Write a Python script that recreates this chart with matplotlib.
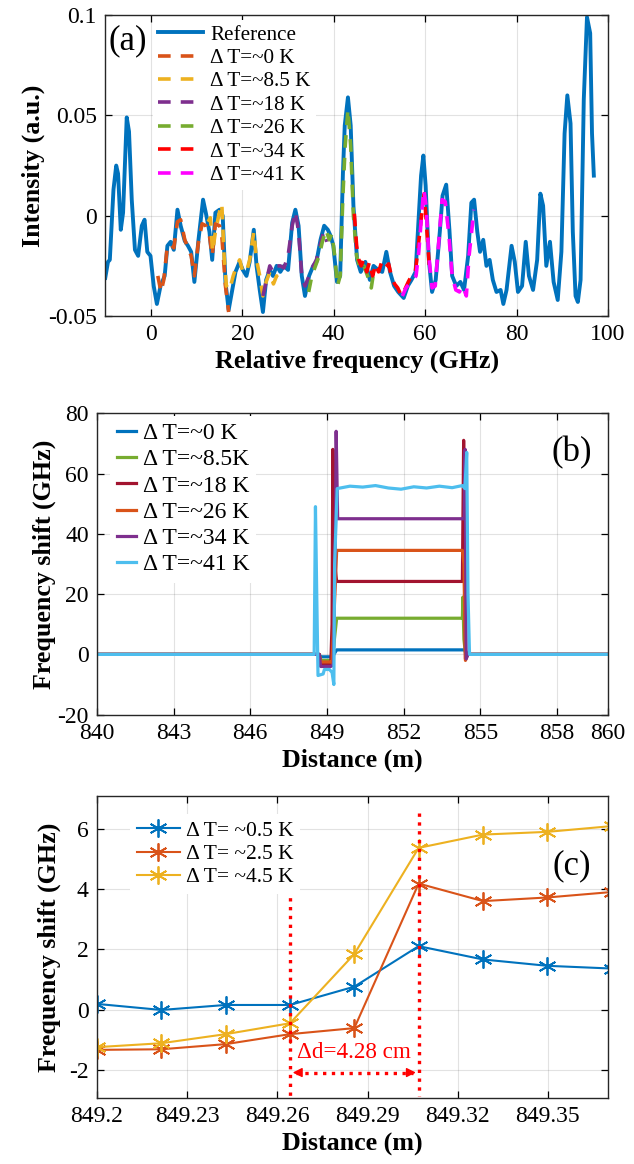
import numpy as np
import matplotlib
matplotlib.use('Agg')
from matplotlib import pyplot as plt

plt.rcParams['font.family'] = ['Liberation Serif', 'DejaVu Serif']
plt.rcParams['axes.unicode_minus'] = False

# ---------------- panel (a): spectra ----------------
ref_freq = [-10, -9.4, -9.0, -8.2, -7.6, -7.2, -6.6, -6.1, -5.3, -4.8, -4.2, -3.5, -2.8, -2.0,
            -1.4, -0.8, -0.1, 0.6, 1.3, 2.1, 3.0, 3.6, 4.3, 5.0, 5.8, 6.5, 7.4, 8.1, 8.8, 9.5,
            10.4, 11.4, 12.0, 12.8, 13.4, 14.1, 15.0, 15.7, 16.3, 17.0, 17.8, 18.5, 19.4, 20.1,
            20.9, 21.6, 22.5, 23.1, 23.8, 24.5, 25.2, 26.0, 26.7, 27.5, 28.3, 29.1, 30.0, 30.9,
            31.6, 32.3, 33.0, 33.7, 34.6, 35.5, 36.2, 37.1, 37.9, 38.7, 39.3, 39.9, 40.7, 41.4,
            42.0, 42.4, 43.1, 43.7, 44.3, 45.1, 45.9, 46.9, 47.9, 48.7, 49.7, 50.6, 51.5, 52.3,
            53.2, 54.1, 55.3, 56.2, 57.0, 57.9, 58.6, 59.1, 59.6, 60.1, 60.8, 61.5, 62.3, 63.2,
            63.8, 64.6, 65.3, 65.9, 66.8, 67.7, 68.5, 69.4, 70.1, 70.7, 71.4, 72.0, 72.7, 73.4,
            74.1, 74.8, 75.6, 76.5, 77.1, 77.8, 78.9, 79.6, 80.3, 81.2, 82.0, 82.7, 83.6, 84.5,
            85.2, 85.8, 86.5, 87.3, 88.1, 89.0, 89.8, 90.5, 91.1, 91.8, 92.3, 92.9, 93.4, 94.0,
            94.7, 95.4, 96.1, 96.5, 96.9]
ref_int = [-0.031, -0.023, -0.022, 0.013, 0.025, 0.021, -0.007, 0.0015, 0.049, 0.042, 0.008,
           -0.017, -0.020, -0.005, -0.002, -0.018, -0.020, -0.035, -0.044, -0.035, -0.030,
           -0.015, -0.013, -0.017, 0.003, -0.005, -0.0126, -0.015, -0.018, -0.033, -0.012,
           0.008, 0.0015, -0.008, -0.022, 0.0015, 0.003, 0.0, -0.033, -0.047, -0.037, -0.028,
           -0.023, -0.027, -0.030, -0.023, -0.007, -0.025, -0.037, -0.048, -0.032, -0.027,
           -0.030, -0.025, -0.028, -0.025, -0.027, -0.0035, 0.003, -0.005, -0.030, -0.040,
           -0.030, -0.025, -0.023, -0.012, -0.005, -0.007, -0.010, -0.015, -0.033, -0.030,
           0.021, 0.045, 0.059, 0.045, 0.005, -0.022, -0.028, -0.023, -0.032, -0.025, -0.027,
           -0.028, -0.018, -0.028, -0.035, -0.038, -0.041, -0.035, -0.032, -0.028, 0.0, 0.020,
           0.030, 0.015, -0.022, -0.038, -0.032, -0.008, 0.010, 0.0155, -0.007, -0.030, -0.035,
           -0.033, -0.037, -0.020, 0.0065, 0.008, -0.008, -0.018, -0.012, -0.025, -0.022,
           -0.032, -0.038, -0.037, -0.044, -0.037, -0.015, -0.023, -0.038, -0.035, -0.013,
           -0.030, -0.037, -0.022, 0.011, 0.005, -0.025, -0.013, -0.033, -0.042, -0.018, 0.041,
           0.060, 0.046, -0.008, -0.040, -0.043, -0.032, 0.058, 0.099, 0.091, 0.041, 0.020]

dt0_freq = [1.5, 2.2, 2.8, 3.5, 4.2, 5.0, 5.8, 6.5, 7.4, 8.1, 8.8, 9.5, 10.4, 11.2, 12.0, 12.8,
            13.4, 14.1, 15.0, 15.5, 16.3, 17.0]
dt0_int = [-0.030, -0.038, -0.032, -0.017, -0.014, -0.016, -0.003, -0.002, -0.012, -0.016,
           -0.020, -0.030, -0.013, -0.004, -0.005, -0.010, -0.020, -0.004, -0.005, -0.010,
           -0.035, -0.048]
dt8_freq = [12.5, 13.0, 13.5, 14.1, 15.0, 15.5, 16.0, 16.5, 17.2, 18.0, 18.6, 19.4, 20.1, 20.9,
            21.6, 22.5, 23.1, 23.8, 24.5, 25.2, 26.0, 26.8, 27.5, 28.0]
dt8_int = [-0.003, -0.001, -0.018, -0.008, 0.002, 0.006, -0.020, -0.035, -0.037, -0.030,
           -0.026, -0.022, -0.028, -0.028, -0.022, -0.008, -0.022, -0.030, -0.040, -0.033,
           -0.028, -0.034, -0.030, -0.034]
dt18_freq = [24.5, 25.2, 26.0, 26.7, 27.5, 28.3, 29.1, 30.0, 30.9, 31.6, 32.3, 33.0, 33.7, 34.6,
             35.5, 36.2, 37.1, 37.8, 38.5]
dt18_int = [-0.040, -0.033, -0.025, -0.028, -0.025, -0.025, -0.026, -0.020, -0.005, 0.002,
            -0.008, -0.030, -0.035, -0.030, -0.025, -0.022, -0.014, -0.008, -0.013]
dt26_freq = [34.5, 35.2, 36.0, 36.8, 37.5, 38.3, 39.0, 39.6, 40.2, 40.8, 41.4, 42.0, 42.5, 43.1,
             43.7, 44.3, 45.0, 45.8, 46.6, 47.4, 48.2, 48.6]
dt26_int = [-0.038, -0.030, -0.025, -0.020, -0.013, -0.007, -0.012, -0.009, -0.020, -0.035,
            -0.030, 0.010, 0.035, 0.053, 0.035, 0.000, -0.020, -0.027, -0.025, -0.030, -0.036,
            -0.030]
dt34_freq = [44.5, 45.0, 45.5, 46.0, 46.5, 47.2, 47.8, 48.5, 49.2, 49.8, 50.5, 51.2, 52.0, 52.6,
             53.3, 54.0, 54.8, 55.5, 56.3, 57.0, 57.8, 58.5, 59.2, 59.8, 60.3, 60.9]
dt34_int = [0.001, -0.015, -0.022, -0.025, -0.022, -0.028, -0.023, -0.030, -0.024, -0.028,
            -0.023, -0.026, -0.024, -0.030, -0.034, -0.036, -0.040, -0.037, -0.033, -0.030,
            -0.029, -0.015, 0.000, 0.011, -0.005, -0.025]
dt41_freq = [55.0, 55.8, 56.5, 57.3, 58.0, 58.6, 59.2, 59.7, 60.2, 60.8, 61.5, 62.2, 63.0, 63.7,
             64.4, 65.2, 65.9, 66.7, 67.5, 68.2, 69.0, 69.6, 70.3, 70.6]
dt41_int = [-0.040, -0.036, -0.034, -0.032, -0.030, -0.018, 0.000, 0.013, 0.005, -0.020, -0.036,
            -0.035, -0.012, 0.008, 0.007, -0.010, -0.030, -0.037, -0.038, -0.035, -0.040, -0.020,
            -0.005, 0.003]

labels_a = ['Reference', 'Δ T=~0 K', 'Δ T=~8.5 K', 'Δ T=~18 K', 'Δ T=~26 K', 'Δ T=~34 K',
            'Δ T=~41 K']
colors_a = ['#0072BD', '#D95319', '#EDB120', '#7E2F8E', '#77AC30', '#FF0000', '#FF00FF']

# ---------------- panel (b): distributed shift ----------------
b_x0 = [840, 848.7, 848.75, 849.15, 849.2, 849.38, 854.35, 854.42, 854.5, 860]
b_y0 = [0, 0, -0.8, -0.8, -1.0, 1.5, 1.5, 1.3, 0, 0]
b_x8 = [840, 848.7, 848.75, 849.15, 849.2, 849.38, 854.3, 854.32, 854.36, 854.42, 854.5, 860]
b_y8 = [0, 0, -2.0, -2.0, -2.2, 12, 12, 19, 5, 0.5, 0, 0]
b_x18 = [840, 848.7, 848.75, 849.15, 849.2, 849.23, 849.3, 849.38, 854.3, 854.35, 854.42, 854.5, 860]
b_y18 = [0, 0, -3.0, -3.0, 10, 68, 30, 24.2, 24.2, 71, -1.5, 0, 0]
b_x26 = [840, 848.7, 848.75, 849.15, 849.2, 849.38, 854.3, 854.36, 854.42, 854.5, 860]
b_y26 = [0, 0, -2.5, -2.5, -2.7, 34.5, 34.5, 30, -2.0, 0, 0]
b_x34 = [840, 848.7, 848.75, 849.15, 849.25, 849.33, 849.36, 849.42, 854.3, 854.37, 854.41,
         854.45, 854.52, 860]
b_y34 = [0, 0, -4.0, -4.0, -3.5, 40, 74, 45, 45, 45, 68, -1.5, 0, 0]
b_x41 = [840, 848.5, 848.55, 848.6, 848.65, 848.85, 848.9, 849.1, 849.2, 849.27, 849.3, 849.4,
         849.9, 850.4, 850.9, 851.4, 851.9, 852.4, 852.9, 853.4, 853.9, 854.3, 854.4, 854.47,
         854.52, 854.58, 860]
b_y41 = [0, 0, 49, 20, -7, -6.5, -5, -5, -6, -10, 30, 55, 55.8, 55.5, 56, 55.2, 54.8, 55.6,
         55.2, 55.8, 55.3, 56, 55, 67, 20, 0, 0]

labels_b = ['Δ T=~0 K', 'Δ T=~8.5K', 'Δ T=~18 K', 'Δ T=~26 K', 'Δ T=~34 K', 'Δ T=~41 K']
colors_b = ['#0072BD', '#77AC30', '#A2142F', '#D95319', '#7E2F8E', '#4DBEEE']

# ---------------- panel (c): zoom on the edge ----------------
c_dist = [849.2, 849.2214, 849.2428, 849.2642, 849.2856, 849.307, 849.3284, 849.3498, 849.3712]
c_dt05 = [0.2, 0.0, 0.165, 0.165, 0.77, 2.11, 1.67, 1.46, 1.37]
c_dt25 = [-1.32, -1.30, -1.13, -0.80, -0.60, 4.18, 3.60, 3.72, 3.90]
c_dt45 = [-1.23, -1.10, -0.80, -0.44, 1.85, 5.36, 5.80, 5.89, 6.08]
labels_c = ['Δ T= ~0.5 K', 'Δ T= ~2.5 K', 'Δ T= ~4.5 K']
colors_c = ['#0072BD', '#D95319', '#EDB120']
edge_left, edge_right = 849.2642, 849.307

LABEL_FS = 18.7
TICK_FS = 17


def style_axes(ax):
    ax.grid(True, color='#262626', alpha=0.13, lw=0.8)
    ax.set_axisbelow(True)
    ax.tick_params(direction='in', top=True, right=True, length=5, width=0.9,
                   labelsize=TICK_FS, pad=6)
    for s in ax.spines.values():
        s.set_linewidth(1.0)
        s.set_color('#262626')


fig = plt.figure(figsize=(6.34, 11.64), dpi=100)

# (a)
ax1 = fig.add_axes([0.166, 0.7285, 0.793, 0.2585])
ax1.plot(ref_freq, ref_int, color=colors_a[0], lw=2.8, label=labels_a[0])
traces = [(dt0_freq, dt0_int), (dt8_freq, dt8_int), (dt18_freq, dt18_int),
          (dt26_freq, dt26_int), (dt34_freq, dt34_int), (dt41_freq, dt41_int)]
for (f, v), c, lab in zip(traces, colors_a[1:], labels_a[1:]):
    ax1.plot(f, v, '--', color=c, lw=2.6, dashes=(3.5, 2.8), label=lab)
ax1.set_xlim(-10, 100)
ax1.set_ylim(-0.05, 0.1)
ax1.set_xticks([0, 20, 40, 60, 80, 100])
ax1.set_yticks([-0.05, 0, 0.05, 0.1])
ax1.set_yticklabels(['-0.05', '0', '0.05', '0.1'])
style_axes(ax1)
ax1.set_xlabel('Relative frequency (GHz)', fontsize=LABEL_FS, fontweight='bold', labelpad=3)
ax1.set_ylabel('Intensity (a.u.)', fontsize=LABEL_FS, fontweight='bold', labelpad=2)
ax1.legend(loc='upper left', bbox_to_anchor=(0.095, 0.985), fontsize=15.2, frameon=True,
           edgecolor='none', facecolor='white', framealpha=1, handlelength=2.1,
           handletextpad=0.35, labelspacing=0.17, borderpad=0.25, borderaxespad=0)
ax1.text(0.045, 0.915, '(a)', transform=ax1.transAxes, fontsize=25, ha='center', va='center')

# (b)
ax2 = fig.add_axes([0.153, 0.386, 0.806, 0.259])
curves_b = [(b_x0, b_y0), (b_x8, b_y8), (b_x18, b_y18), (b_x26, b_y26), (b_x34, b_y34),
            (b_x41, b_y41)]
for (x, y), c, lab in zip(curves_b, colors_b, labels_b):
    ax2.plot(x, y, color=c, lw=2.3, label=lab)
ax2.set_xlim(840, 860)
ax2.set_ylim(-20, 80)
ax2.set_xticks([840, 843, 846, 849, 852, 855, 858, 860])
ax2.set_yticks([-20, 0, 20, 40, 60, 80])
style_axes(ax2)
ax2.set_xlabel('Distance (m)', fontsize=LABEL_FS, fontweight='bold', labelpad=3)
ax2.set_ylabel('Frequency shift (GHz)', fontsize=LABEL_FS, fontweight='bold', labelpad=1)
ax2.legend(loc='upper left', bbox_to_anchor=(0.02, 1.0), fontsize=17, frameon=True,
           edgecolor='none', facecolor='white', framealpha=1, handlelength=0.8,
           handletextpad=0.3, labelspacing=0.2, borderpad=0.3, borderaxespad=0.1)
ax2.text(0.93, 0.87, '(b)', transform=ax2.transAxes, fontsize=25, ha='center', va='center')

# (c)
ax3 = fig.add_axes([0.153, 0.057, 0.806, 0.259])
for vals, c, lab in zip([c_dt05, c_dt25, c_dt45], colors_c, labels_c):
    ax3.plot(c_dist, vals, '-', marker=(6, 2, 0), color=c, lw=1.5, ms=13, mew=1.3, label=lab)
ax3.plot([edge_left, edge_left], [4.3, -2.85], ':', color='#FF0000', lw=2.4)
ax3.plot([edge_right, edge_right], [6.5, -2.85], ':', color='#FF0000', lw=2.4)
ax3.plot([edge_left + 0.002, edge_right - 0.002], [-2.07, -2.07], ':', color='#FF0000', lw=2.4)
ax3.annotate('', xy=(edge_left, -2.07), xytext=(edge_left + 0.004, -2.07),
             arrowprops=dict(arrowstyle='-|>', color='#FF0000', lw=1, mutation_scale=14))
ax3.annotate('', xy=(edge_right, -2.07), xytext=(edge_right - 0.004, -2.07),
             arrowprops=dict(arrowstyle='-|>', color='#FF0000', lw=1, mutation_scale=14))
ax3.text((edge_left + edge_right) / 2, -1.4, 'Δd=4.28 cm', color='#FF0000', fontsize=16.7,
         ha='center', va='center')
ax3.set_xlim(849.2, 849.37)
ax3.set_ylim(-2.9, 7.07)
ax3.set_xticks([849.2, 849.23, 849.26, 849.29, 849.32, 849.35])
ax3.set_xticklabels(['849.2', '849.23', '849.26', '849.29', '849.32', '849.35'])
ax3.set_yticks([-2, 0, 2, 4, 6])
style_axes(ax3)
ax3.set_xlabel('Distance (m)', fontsize=LABEL_FS, fontweight='bold', labelpad=3)
ax3.set_ylabel('Frequency shift (GHz)', fontsize=LABEL_FS, fontweight='bold', labelpad=6)
ax3.legend(loc='upper left', bbox_to_anchor=(0.065, 0.94), fontsize=15.5, frameon=True,
           edgecolor='none', facecolor='white', framealpha=1, handlelength=2.0,
           handletextpad=0.3, labelspacing=0.15, borderpad=0.3, borderaxespad=0)
ax3.text(0.93, 0.77, '(c)', transform=ax3.transAxes, fontsize=25, ha='center', va='center')

fig.savefig('out.png', dpi=100)
